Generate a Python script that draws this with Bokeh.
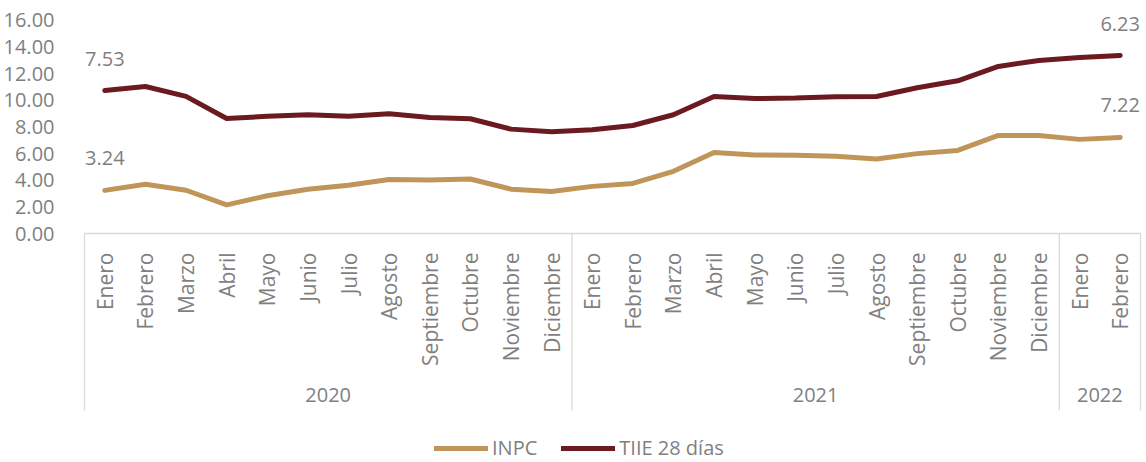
import math
from bokeh.plotting import figure
from bokeh.layouts import column
from bokeh.models import FactorRange, ColumnDataSource, Legend, LegendItem, FixedTicker, NumeralTickFormatter
from bokeh.core.properties import value
from bokeh.embed import file_html
from bokeh.resources import INLINE

years = ["2020"] * 12 + ["2021"] * 12 + ["2022"] * 2
months = ["Enero", "Febrero", "Marzo", "Abril", "Mayo", "Junio", "Julio", "Agosto",
          "Septiembre", "Octubre", "Noviembre", "Diciembre"] * 2 + ["Enero", "Febrero"]

inpc = [3.24, 3.70, 3.25, 2.15, 2.84, 3.33, 3.62, 4.05, 4.01, 4.09, 3.33, 3.15,
        3.54, 3.76, 4.67, 6.08, 5.89, 5.88, 5.81, 5.59, 6.00, 6.24, 7.37, 7.36,
        7.07, 7.22]
tiie = [10.74, 11.04, 10.30, 8.64, 8.80, 8.92, 8.81, 8.99, 8.72, 8.62, 7.84, 7.64,
        7.79, 8.11, 8.92, 10.29, 10.14, 10.17, 10.27, 10.29, 10.95, 11.47, 12.55, 13.00,
        13.22, 13.37]

label_idx = [0, 25]
inpc_labels = ["3.24", "7.22"]
tiie_labels = ["7.53", "6.23"]
y_ticks = [0, 2, 4, 6, 8, 10, 12, 14, 16]
series_names = ["INPC", "TIIE 28 días"]

GRAY = "#7f7f7f"
AXIS_GRAY = "#d9d9d9"
FONT = "Open Sans"
INPC_COLOR = "#BF9559"
TIIE_COLOR = "#6B1A20"
SEP_DEPTH = -13.3  # how far the year separators reach below the axis (data units)

factors = list(zip(years, months))
src = ColumnDataSource(dict(x=factors, inpc=inpc, tiie=tiie))

p = figure(x_range=FactorRange(*factors, range_padding=0, factor_padding=0, group_padding=0),
           y_range=(0, 16.6), frame_width=1056, frame_height=221,
           min_border_left=75, min_border_top=12, min_border_right=5, min_border_bottom=195,
           output_backend="svg", toolbar_location=None)
p.outline_line_color = None
p.xgrid.visible = False
p.ygrid.visible = False
p.background_fill_color = "white"
p.border_fill_color = "white"

line_kw = dict(line_width=5, line_cap="round", line_join="round")
p.line("x", "inpc", source=src, line_color=INPC_COLOR, **line_kw)
p.line("x", "tiie", source=src, line_color=TIIE_COLOR, **line_kw)

lab_src = ColumnDataSource(dict(
    x=[factors[i] for i in label_idx] * 2,
    y=[inpc[i] for i in label_idx] + [tiie[i] for i in label_idx],
    t=inpc_labels + tiie_labels))
p.text("x", "y", text="t", source=lab_src, y_offset=-32, text_align="center",
       text_baseline="middle", text_font=value(FONT), text_font_size="20px",
       text_color=GRAY)

# year separators (group boundaries, incl. outer edges) drawn below the axis
bounds = [factors[0] + (-0.5,)]
for i, f in enumerate(factors):
    if i == len(factors) - 1 or factors[i + 1][0] != f[0]:
        bounds.append(f + (0.5,))
sep_src = ColumnDataSource(dict(x=bounds, y0=[0] * len(bounds), y1=[SEP_DEPTH] * len(bounds)))
p.segment(x0="x", y0="y0", x1="x", y1="y1", source=sep_src, line_color=AXIS_GRAY,
          line_width=1.3, level="overlay")

# y axis
ya = p.yaxis[0]
ya.ticker = FixedTicker(ticks=y_ticks)
ya.formatter = NumeralTickFormatter(format="0.00")
ya.axis_line_color = None
ya.major_tick_line_color = None
ya.minor_tick_line_color = None
ya.major_label_standoff = 24
ya.major_label_text_font = FONT
ya.major_label_text_font_size = "20px"
ya.major_label_text_color = GRAY

# x axis
xa = p.xaxis[0]
xa.axis_line_color = AXIS_GRAY
xa.axis_line_width = 1.3
xa.major_tick_line_color = None
xa.major_tick_out = 0
xa.major_label_orientation = math.pi / 2
xa.major_label_standoff = 19
xa.major_label_text_font = FONT
xa.major_label_text_font_size = "21px"
xa.major_label_text_color = GRAY
xa.group_label_orientation = "horizontal"
xa.group_text_font = FONT
xa.group_text_font_size = "20px"
xa.group_text_color = GRAY
xa.group_text_font_style = "normal"
xa.separator_line_color = None

# legend strip underneath (its frame is aligned with the chart's frame)
pl = figure(width=1144, height=34, x_axis_type=None, y_axis_type=None,
            x_range=(0, 1), y_range=(0, 1), min_border=0,
            output_backend="svg", toolbar_location=None)
pl.outline_line_color = None
pl.grid.visible = False
lr_inpc = pl.line(x=[-5, -4], y=[-5, -4], line_color=INPC_COLOR, **line_kw)
lr_tiie = pl.line(x=[-5, -4], y=[-5, -4], line_color=TIIE_COLOR, **line_kw)
legend = Legend(items=[LegendItem(label=series_names[0], renderers=[lr_inpc]),
                       LegendItem(label=series_names[1], renderers=[lr_tiie])],
                orientation="horizontal", location=(350, 1),
                label_text_font=FONT, label_text_font_size="20px", label_text_color=GRAY,
                glyph_width=54, glyph_height=16, label_height=16, spacing=24, label_standoff=4,
                border_line_color=None, background_fill_alpha=0, padding=2, margin=0)
pl.add_layout(legend, "center")

layout = column(p, pl, spacing=0)
open("out.html", "w").write(file_html(layout, INLINE))
